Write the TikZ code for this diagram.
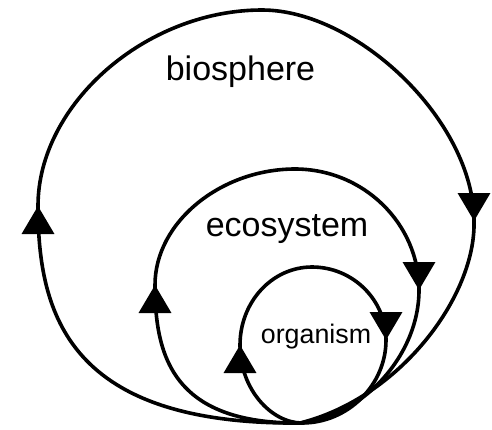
\documentclass[tikz,border=0pt]{standalone}
\usepackage{fontspec}
\setmainfont{Liberation Sans}
\usetikzlibrary{arrows.meta}
\tikzset{
    ring-line/.style = {draw=black, line width=1.8pt},
    ring-tip/.style = {ring-line, -{Triangle[length=14pt, width=16pt]}},
    ring-label/.style = {anchor=base, inner sep=0pt},
}

\begin{document}
\begin{tikzpicture}[x=0.5pt, y=-0.5pt]
\useasboundingbox (0,0) rectangle (492,429);
% biosphere
\coordinate (bio-b) at (300,423);
\coordinate (bio-l) at (38,206);
\coordinate (bio-t) at (262,10);
\coordinate (bio-r) at (474,221);
% ecosystem
\coordinate (eco-b) at (300,423);
\coordinate (eco-l) at (155,285);
\coordinate (eco-t) at (295,169);
\coordinate (eco-r) at (419,290);
% organism
\coordinate (org-b) at (302,423);
\coordinate (org-l) at (240,345);
\coordinate (org-t) at (312,267);
\coordinate (org-r) at (386,340);

\draw[ring-line] (bio-b) .. controls +(-230,2) and +(0,110) .. (bio-l)
    .. controls +(0,-102) and +(-116,0) .. (bio-t)
    .. controls +(95,0) and +(0,-100) .. (bio-r)
    .. controls +(2,75) and +(100,-25) .. (bio-b);
\draw[ring-line] (eco-b) .. controls +(-128,1) and +(0,70) .. (eco-l)
    .. controls +(0,-63) and +(-74,0) .. (eco-t)
    .. controls +(68,0) and +(0,-67) .. (eco-r)
    .. controls +(0,67) and +(60,-5) .. (eco-b);
\draw[ring-line] (org-b) .. controls +(-30,0) and +(0,45) .. (org-l)
    .. controls +(0,-43) and +(-40,0) .. (org-t)
    .. controls +(41,0) and +(0,-40) .. (org-r)
    .. controls +(0,45) and +(46,0) .. (org-b);

% arrow heads
\draw[ring-tip] ([yshift=-14pt]bio-l) -- (bio-l);
\draw[ring-tip] ([yshift=14pt]bio-r) -- (bio-r);
\draw[ring-tip] ([yshift=-14pt]eco-l) -- (eco-l);
\draw[ring-tip] ([yshift=14pt]eco-r) -- (eco-r);
\draw[ring-tip] ([yshift=-14pt]org-l) -- (org-l);
\draw[ring-tip] ([yshift=14pt]org-r) -- (org-r);

\node[ring-label, font=\fontsize{17}{20}\selectfont] (bio-text) at (240.5,80) {biosphere};
\node[ring-label, font=\fontsize{17}{20}\selectfont] (eco-text) at (287,236) {ecosystem};
\node[ring-label, font=\fontsize{13.4}{16}\selectfont] (org-text) at (316,343) {organism};
\end{tikzpicture}
\end{document}
